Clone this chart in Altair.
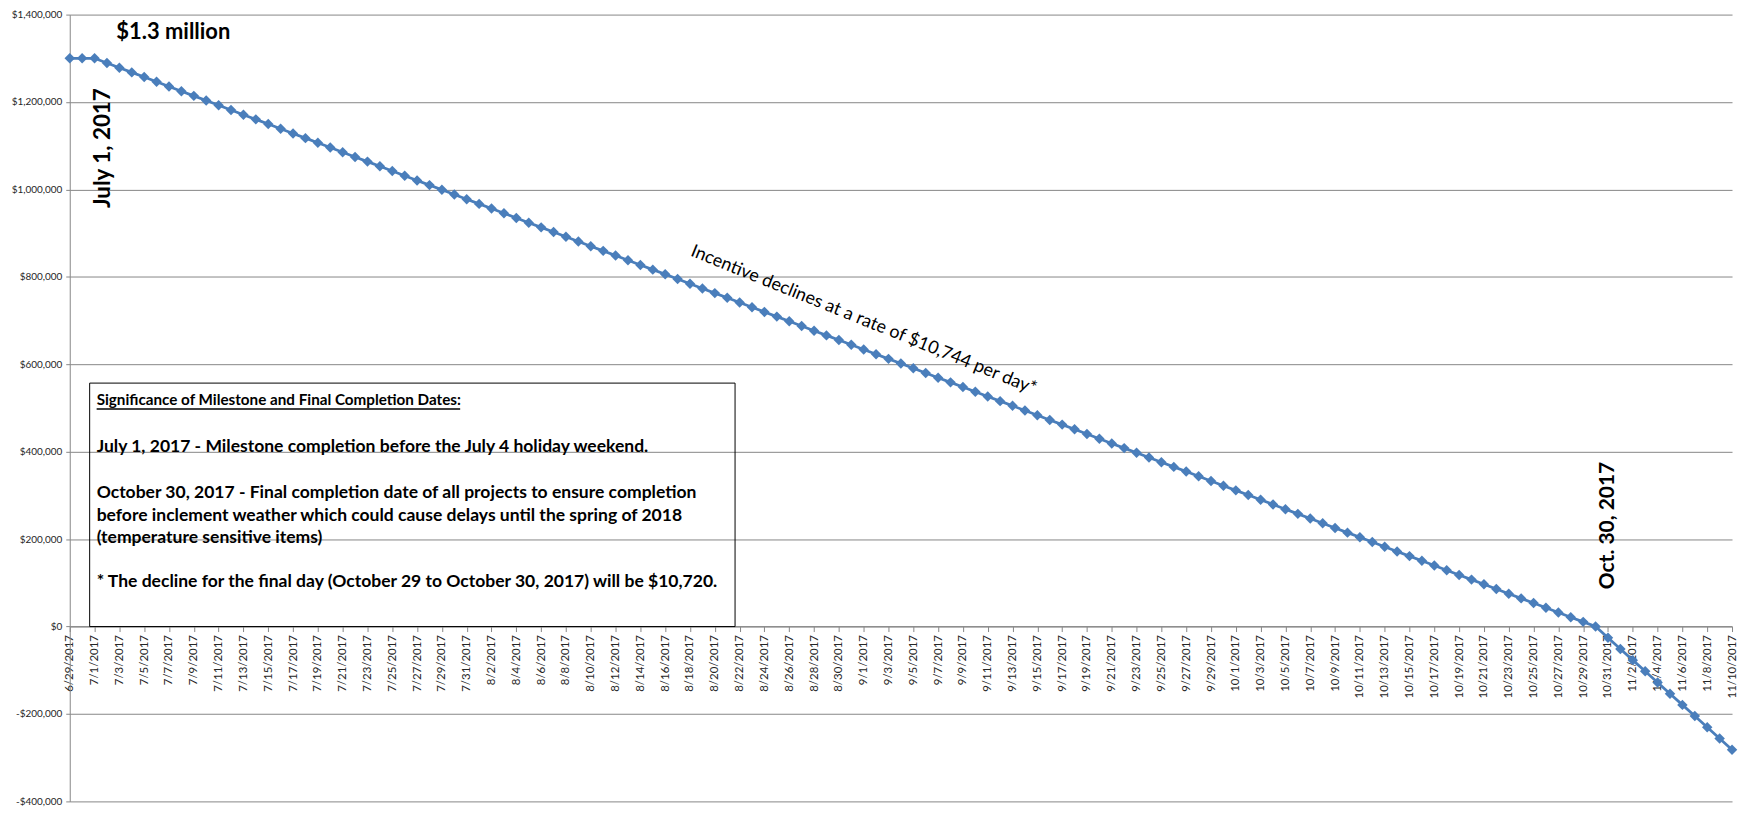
import altair as alt
import pandas as pd

# ---- data -------------------------------------------------------------
dates = [d.strftime("%Y-%m-%d") for d in pd.date_range("2017-06-29", "2017-11-10", freq="D")]

incentive = [
    1300000, 1300000,
    1300000, 1289256, 1278512, 1267768, 1257024, 1246280, 1235536, 1224792, 1214048, 1203304,
    1192560, 1181816, 1171072, 1160328, 1149584, 1138840, 1128096, 1117352, 1106608, 1095864,
    1085120, 1074376, 1063632, 1052888, 1042144, 1031400, 1020656, 1009912, 999168, 988424,
    977680, 966936, 956192, 945448, 934704, 923960, 913216, 902472, 891728, 880984,
    870240, 859496, 848752, 838008, 827264, 816520, 805776, 795032, 784288, 773544,
    762800, 752056, 741312, 730568, 719824, 709080, 698336, 687592, 676848, 666104,
    655360, 644616, 633872, 623128, 612384, 601640, 590896, 580152, 569408, 558664,
    547920, 537176, 526432, 515688, 504944, 494200, 483456, 472712, 461968, 451224,
    440480, 429736, 418992, 408248, 397504, 386760, 376016, 365272, 354528, 343784,
    333040, 322296, 311552, 300808, 290064, 279320, 268576, 257832, 247088, 236344,
    225600, 214856, 204112, 193368, 182624, 171880, 161136, 150392, 139648, 128904,
    118160, 107416, 96672, 85928, 75184, 64440, 53696, 42952, 32208, 21464,
    10720, 0,
    -25600, -51200, -76800, -102400, -128000, -153600, -179200, -204800, -230400, -256000, -281600,
]

y_ticks = [-400000, -200000, 0, 200000, 400000, 600000, 800000, 1000000, 1200000, 1400000]
tick_dates = dates[::2]

box_lines = [
    "July 1, 2017 - Milestone completion before the July 4 holiday weekend.",
    "October 30, 2017 - Final completion date of all projects to ensure completion",
    "before inclement weather which could cause delays until the spring of 2018",
    "(temperature sensitive items)",
    "* The decline for the final day (October 29 to October 30, 2017) will be $10,720.",
]
box_title = "Significance of Milestone and Final Completion Dates:"

# ---- helpers -----------------------------------------------------------
def ms(d):
    return int(pd.Timestamp(d, tz="UTC").timestamp() * 1000)

df = pd.DataFrame({"date": dates, "value": incentive})

FONT = "Lato"
W, H = 1669, 790
ZERO_Y = H * 7 / 9
GRID = "#868686"
BLUE = "#4A7EBB"

x_enc = alt.X(
    "date:T",
    scale=alt.Scale(type="utc", domain=[ms(dates[0]), ms(dates[-1])], nice=False),
    axis=alt.Axis(
        values=[ms(d) for d in tick_dates],
        labelExpr="utcFormat(datum.value, '%-m/%-d/%Y')",
        labelAngle=270,
        labelAlign="right",
        labelBaseline="middle",
        labelOverlap=False,
        labelFlush=False,
        labelBound=False,
        labelFont=FONT,
        labelFontSize=11.5,
        labelColor="#262626",
        labelPadding=3,
        tickSize=5,
        tickColor=GRID,
        domainColor=GRID,
        grid=False,
        offset=-(H - ZERO_Y),
        title=None,
    ),
)

y_enc = alt.Y(
    "value:Q",
    scale=alt.Scale(domain=[-400000, 1400000], nice=False, zero=False),
    axis=alt.Axis(
        values=y_ticks,
        labelExpr="(datum.value < 0 ? '-' : '') + '$' + format(abs(datum.value), ',d')",
        labelFont=FONT,
        labelFontSize=10,
        labelColor="#262626",
        labelPadding=4,
        tickSize=4,
        tickColor=GRID,
        domainColor=GRID,
        grid=True,
        gridColor=GRID,
        gridWidth=1,
        title=None,
    ),
)

line = alt.Chart(df).mark_line(
    color=BLUE,
    strokeWidth=2.75,
    point=alt.OverlayMarkDef(shape="diamond", size=110, filled=True, color=BLUE, opacity=1),
).encode(x=x_enc, y=y_enc)

one = alt.Data(values=[{}])

def label(text, x, y, size, weight="bold", angle=0, align="center"):
    return alt.Chart(one).mark_text(
        text=text, font=FONT, fontSize=size, fontWeight=weight, angle=angle,
        align=align, baseline="middle", color="black",
    ).encode(x=alt.value(x), y=alt.value(y))

box = alt.Chart(one).mark_rect(fillOpacity=0, stroke="black", strokeWidth=1).encode(
    x=alt.value(20), x2=alt.value(668), y=alt.value(370), y2=alt.value(ZERO_Y)
)
underline = alt.Chart(one).mark_rule(color="black", strokeWidth=1.3).encode(
    x=alt.value(27), x2=alt.value(392), y=alt.value(396)
)

box_ys = [434, 480, 503, 526, 570]
box_texts = [label(box_title, 27, 387, 15.3, align="left")] + [
    label(t, 27, yy, 17.6, align="left") for t, yy in zip(box_lines, box_ys)
]

layers = [line, box, underline] + box_texts + [
    label("$1.3 million", 104, 18, 22),
    label("July 1, 2017", 33, 134, 22.5, angle=270),
    label("Oct. 30, 2017", 1544, 513, 21, angle=270),
    label("Incentive declines at a rate of $10,744 per day*", 797, 307, 18, weight="normal", angle=22),
]

chart = alt.layer(*layers).properties(
    width=W,
    height=H,
    autosize=alt.AutoSizeParams(type="none"),
    padding={"left": 62, "top": 5, "right": 8, "bottom": 4},
    background="white",
).configure_view(stroke=None)

chart.save("out.html", embed_options={"renderer": "svg", "actions": False})
